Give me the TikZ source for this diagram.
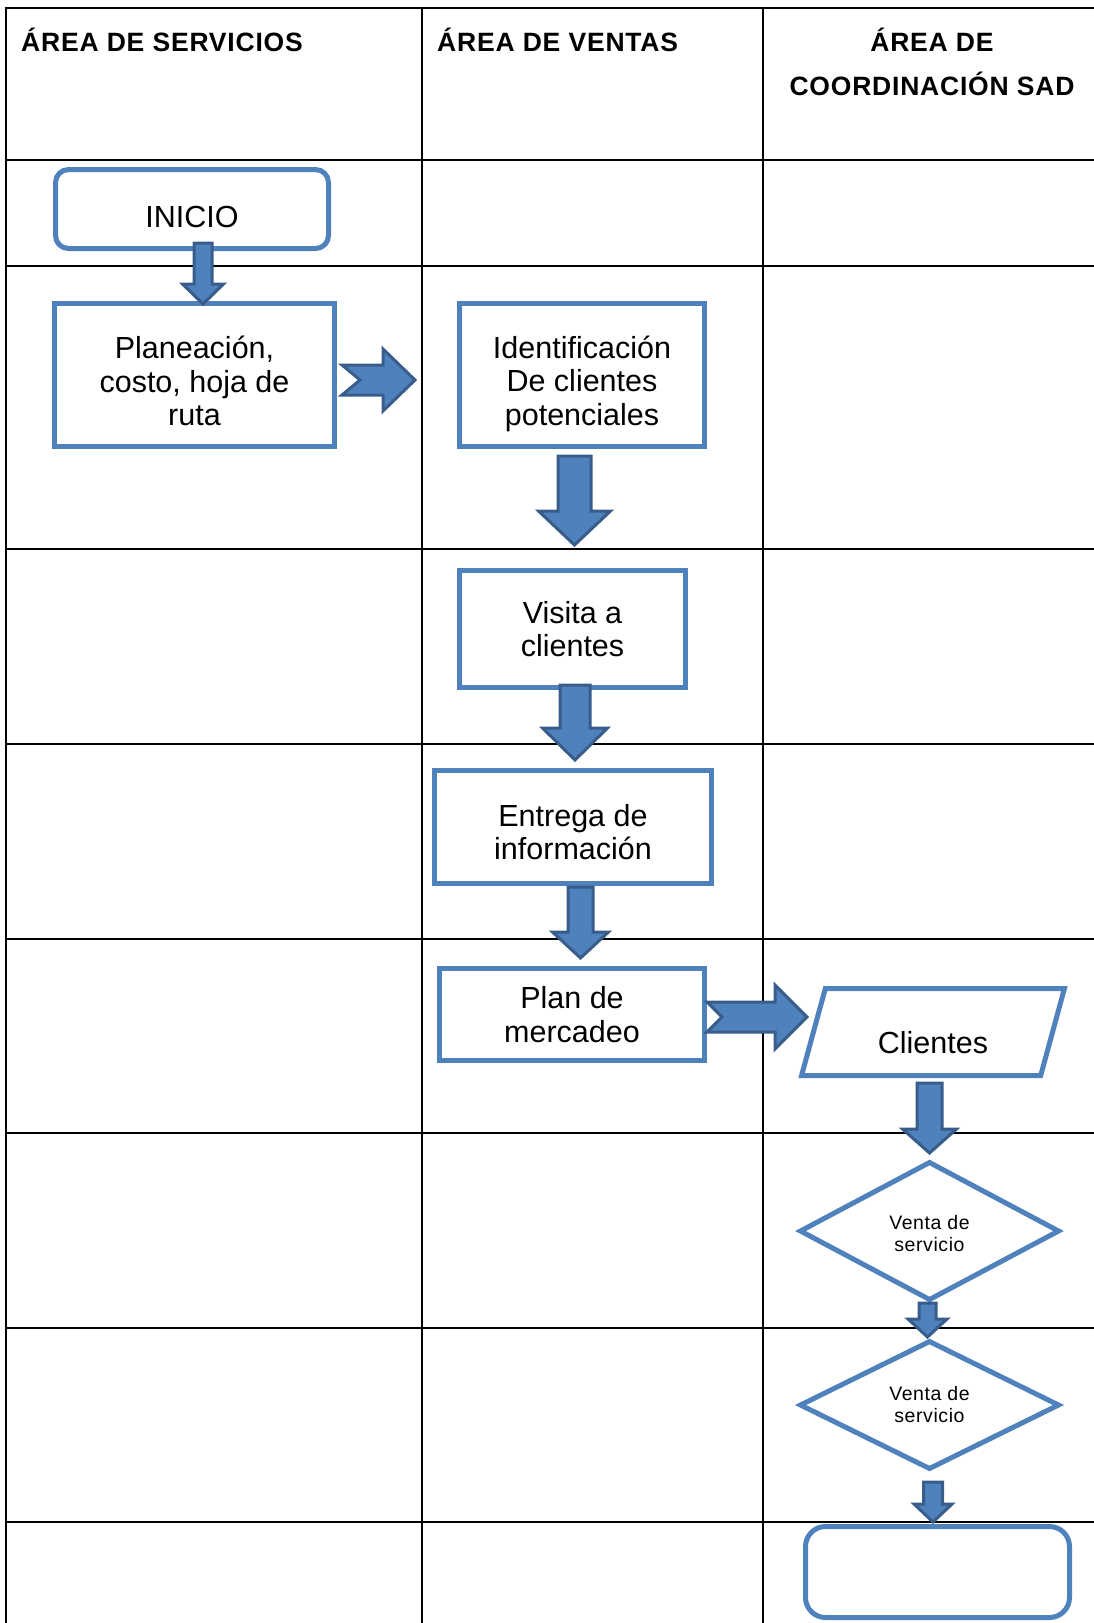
\documentclass[tikz,border=0pt]{standalone}
\usepackage{fontspec}
\setmainfont{Liberation Sans}
\newfontfamily\headfont[LetterSpace=3]{Liberation Sans}
\newfontfamily\smallfont[LetterSpace=3]{Liberation Sans}
\usepackage{tikz}
\usetikzlibrary{calc,shapes.geometric}
\definecolor{sadblue}{RGB}{79,129,189}
\definecolor{saddark}{RGB}{56,93,138}

% block arrows: start, tip, shaft half width, head half width, head length (+ notch)
\newcommand{\downblk}[5]{%
  \draw[blkarrow] let \p1=(#1), \p2=(#2) in
    (\x1-#3pt,\y1) -- (\x1+#3pt,\y1) -- (\x1+#3pt,\y2+#5pt) -- (\x1+#4pt,\y2+#5pt)
    -- (\x1,\y2) -- (\x1-#4pt,\y2+#5pt) -- (\x1-#3pt,\y2+#5pt) -- cycle;}
\newcommand{\rightblk}[6]{%
  \draw[blkarrow] let \p1=(#1), \p2=(#2) in
    (\x1,\y1+#3pt) -- (\x2-#5pt,\y1+#3pt) -- (\x2-#5pt,\y1+#4pt) -- (\x2,\y1)
    -- (\x2-#5pt,\y1-#4pt) -- (\x2-#5pt,\y1-#3pt) -- (\x1,\y1-#3pt) -- (\x1+#6pt,\y1) -- cycle;}
\newcommand{\dropstrut}[1]{\rule{0pt}{#1}}

\begin{document}
\begin{tikzpicture}[x=1pt,y=-1pt,
    every node/.style={align=center,font=\fontsize{30.5}{33.5}\selectfont},
    grid/.style={line width=2pt,line cap=rect},
    head/.style={font=\headfont\bfseries\fontsize{26.5}{44}\selectfont,inner sep=0pt},
    box/.style={draw=sadblue,line width=5pt,fill=white,outer sep=0pt,inner sep=2pt},
    termbox/.style={box,rounded corners=13pt},
    databox/.style={box,trapezium,trapezium left angle=75,trapezium right angle=105,trapezium stretches=true},
    decbox/.style={box,diamond,inner sep=0pt,font=\smallfont\fontsize{19.5}{22}\selectfont},
    blkarrow/.style={fill=sadblue,draw=saddark,line width=3pt,line join=miter}]
  \useasboundingbox (0,0) rectangle (1093,1623);
  % swimlane table
  \draw[grid] (6,7.5) -- (1093,7.5);
  \foreach \yy in {160,266,549,744,939,1133,1328,1522}
    \draw[grid] (6,\yy) -- (1093,\yy);
  \foreach \xx in {6,422,763}
    \draw[grid] (\xx,7.5) -- (\xx,1623);
  \node[head,anchor=base west] (hserv) at (21,51) {ÁREA DE SERVICIOS};
  \node[head,anchor=base west] (hvent) at (437,51) {ÁREA DE VENTAS};
  \node[head,anchor=base] (hcoord) at (932,95) {ÁREA DE\\COORDINACIÓN SAD};
  % steps
  \node[termbox,minimum width=273,minimum height=79,text height=37pt,text depth=0pt] (inicio) at (192,209) {INICIO};
  \node[box,minimum width=280,minimum height=143] (plan) at (194.5,375) {\dropstrut{35pt}Planeación,\\costo, hoja de\\ruta};
  \node[box,minimum width=245,minimum height=143] (ident) at (582,375) {\dropstrut{40pt}Identificación\\De clientes\\potenciales};
  \node[box,minimum width=226,minimum height=117] (visita) at (572.5,629) {Visita a\\clientes};
  \node[box,minimum width=277,minimum height=113] (entrega) at (573,827) {\dropstrut{32pt}Entrega de\\información};
  \node[box,minimum width=265,minimum height=92] (mercadeo) at (572,1014.5) {Plan de\\mercadeo};
  \node[databox,minimum width=263,minimum height=87,text height=43pt,text depth=0pt] (clientes) at (933,1032) {Clientes};
  \node[decbox,minimum width=258,minimum height=137] (venta1) at (929.5,1231) {\dropstrut{20pt}Venta de\\servicio};
  \node[decbox,minimum width=258,minimum height=127] (venta2) at (929.5,1405) {Venta de\\servicio};
  \node[termbox,rounded corners=20pt,minimum width=264,minimum height=91] (fin) at (937.5,1572) {};
  % connectors
  \downblk{$(inicio.south)+(11,-5.5)$}{$(plan.north)+(0,0.5)$}{9}{20.5}{20}
  \rightblk{$(plan.east)+(7.5,5)$}{$(ident.west)+(-44.5,0)$}{15}{31}{32}{18}
  \downblk{$(ident.south)+(-7.5,9.5)$}{$(visita.north)+(0,-25.5)$}{16.5}{36}{34}
  \downblk{$(visita.south)+(2.5,-2.5)$}{$(entrega.north)+(0,-10.5)$}{15}{32.5}{32}
  \downblk{$(entrega.south)+(7.5,3.5)$}{$(mercadeo.north)+(0,-10.5)$}{12.5}{28}{26}
  \rightblk{$(mercadeo.east)+(2.5,2.5)$}{$(clientes.center)+(-126,0)$}{15}{32}{32}{15}
  \downblk{$(clientes.south)+(-3.5,7.5)$}{$(venta1.north)+(0,-9.5)$}{12.5}{27}{24}
  \downblk{$(venta1.south)+(-2,3.5)$}{$(venta2.north)+(0,-4.5)$}{8.5}{19.5}{18}
  \downblk{$(venta2.south)+(3.5,13.5)$}{$(fin.north)+(0,-4.5)$}{9.5}{19}{18}
\end{tikzpicture}
\end{document}
